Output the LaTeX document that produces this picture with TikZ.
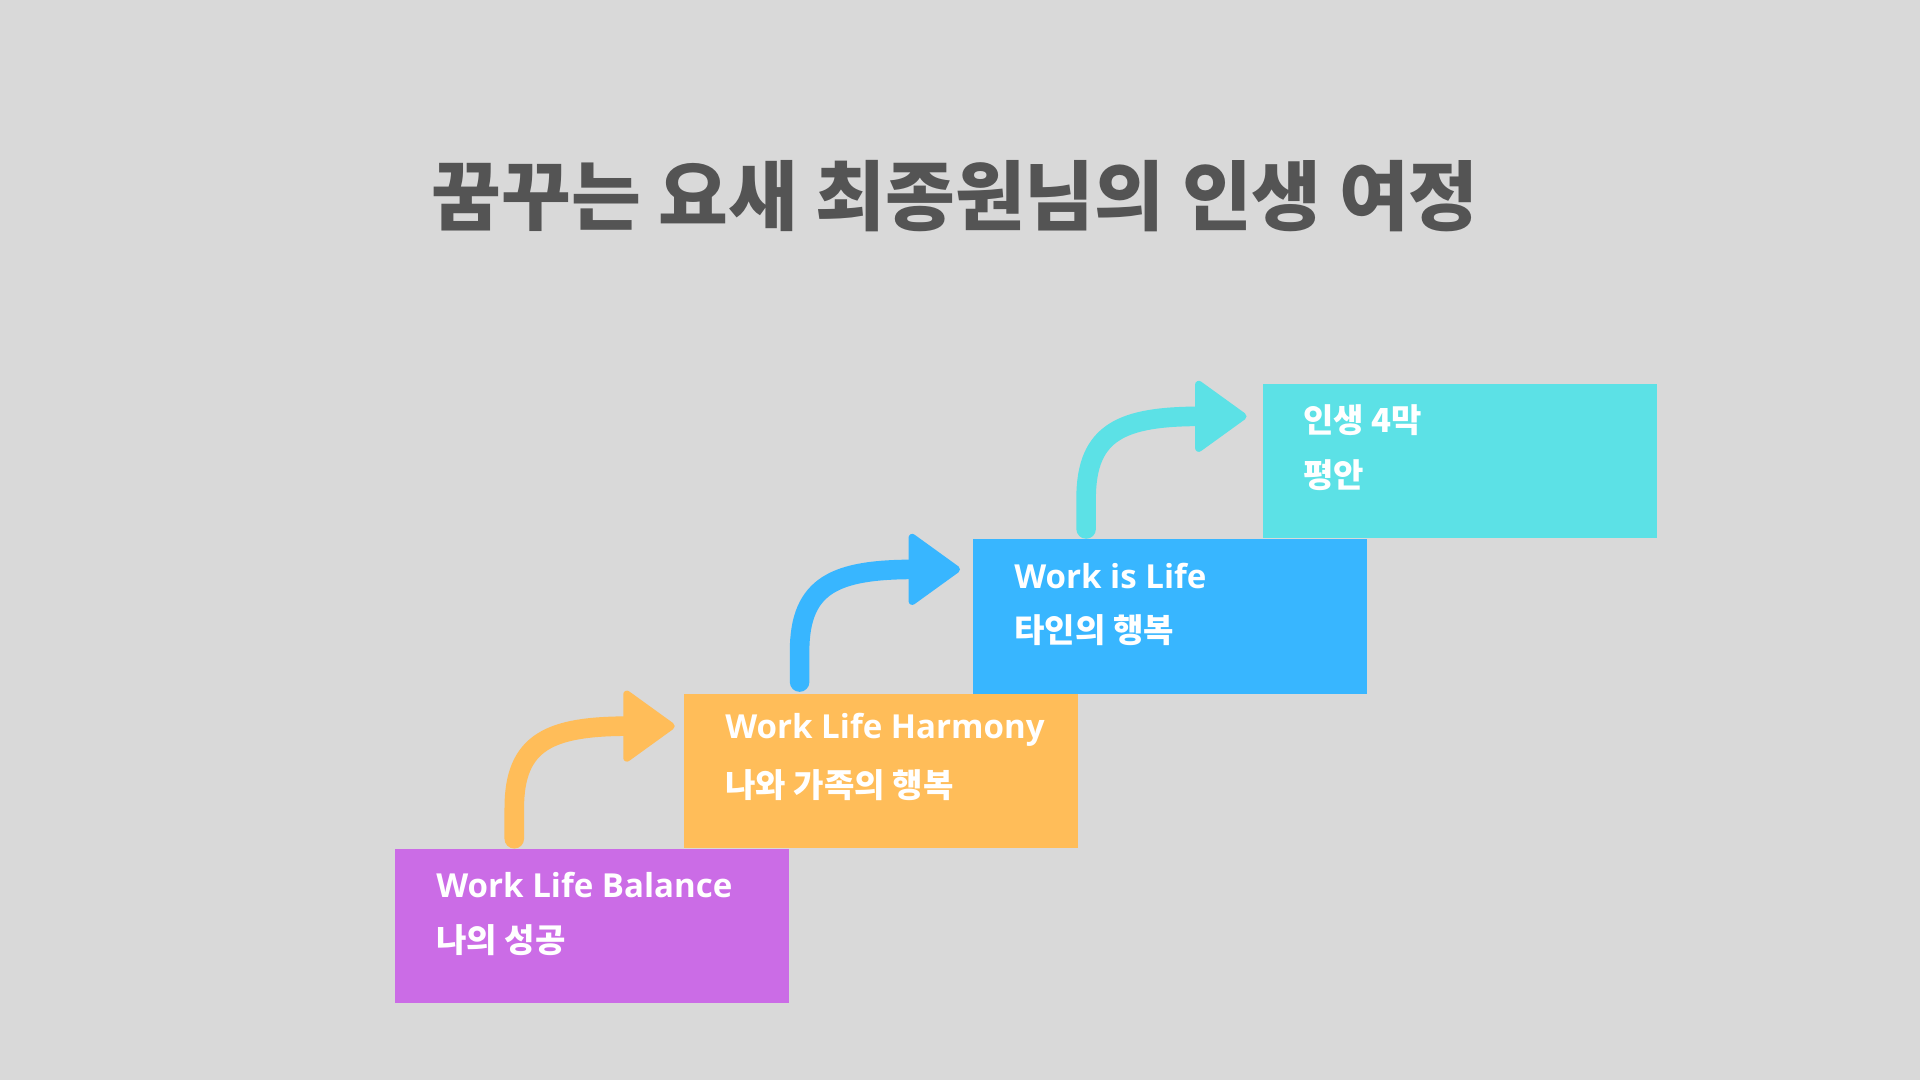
\documentclass[tikz,border=0pt]{standalone}
\usepackage{fontspec}
\setmainfont{Open Sans}
\newfontfamily\cjk{Noto Sans CJK KR}
\definecolor{bg}{HTML}{D9D9D9}
\definecolor{ttl}{HTML}{545454}
\definecolor{cpur}{HTML}{CB6CE6}
\definecolor{cora}{HTML}{FFBD59}
\definecolor{cblu}{HTML}{38B6FF}
\definecolor{ccya}{HTML}{5CE1E6}
\begin{document}
\begin{tikzpicture}[x=0.5pt,y=-0.5pt,
  box/.style={inner sep=0pt,minimum width=161pt,minimum height=63pt,anchor=north west},
  lbl/.style={anchor=west,text=white,font=\bfseries\fontsize{13.5}{16}\selectfont,inner sep=0pt},
  curve/.style={line width=8pt,line cap=round},
  head/.style={line width=3pt,line join=round}]
\fill[bg] (0,0) rectangle (1568,882);
\useasboundingbox (0,0) rectangle (1568,882);
\node[font=\cjk\bfseries\fontsize{31}{36}\selectfont,text=ttl] (title) at (780,160) {꿈꾸는 요새 최종원님의 인생 여정};
\node[box,fill=cpur] (b1) at (322,693) {};
\node[box,fill=cora] (b2) at (558,566) {};
\node[box,fill=cblu] (b3) at (794,440) {};
\node[box,fill=ccya] (b4) at (1031,313) {};
\node[lbl] (t1a) at (356,723) {Work Life Balance};
\node[lbl] (t1b) at (356,768) {\cjk 나의 성공};
\node[lbl] (t2a) at (592,596) {Work Life Harmony};
\node[lbl] (t2b) at (592,641) {\cjk 나와 가족의 행복};
\node[lbl] (t3a) at (828,470) {Work is Life};
\node[lbl] (t3b) at (828,515) {\cjk 타인의 행복};
\node[lbl] (t4a) at (1064,343) {\cjk 인생 4막};
\node[lbl] (t4b) at (1064,388) {\cjk 평안};
\foreach \x/\y/\c/\n in {420/685/cora/a1, 653/557/cblu/a2, 887/432/ccya/a3}{
  \coordinate (\n s) at (\x,\y);
  \coordinate (\n e) at (\x+94,\y-92);
  \draw[curve,\c] (\n s) -- ++(0,-25) .. controls (\x,\y-80) and (\x+30,\y-92) .. (\n e);
  \filldraw[head,\c] (\x+92,\y-118) -- (\x+128,\y-92) -- (\x+92,\y-66) -- cycle;
}
\end{tikzpicture}
\end{document}
